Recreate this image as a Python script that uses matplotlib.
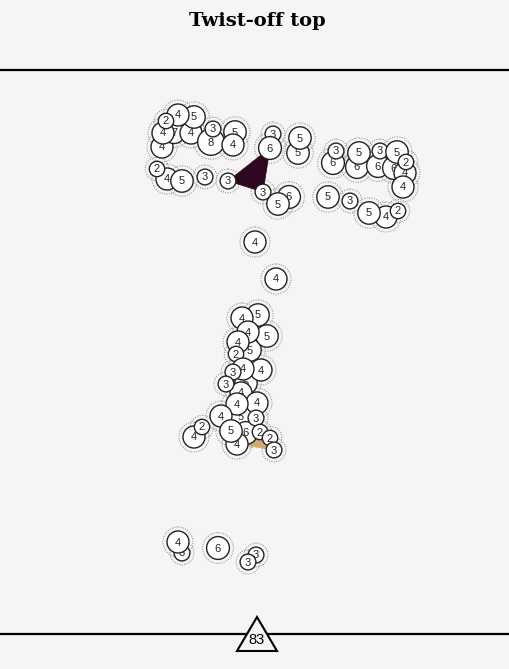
import matplotlib
matplotlib.use("Agg")
import matplotlib.pyplot as plt
from matplotlib.patches import Circle, Polygon

# Circle data (pixel-like coords, y down), drawn in this order
circ_x = [162, 174, 163, 191, 194, 178, 166, 211, 213, 235, 233,
          167, 157, 182, 205, 228,
          273, 270, 298, 300, 289, 278, 263,
          333, 336, 357, 359, 378, 380, 394, 397, 405, 403, 406,
          328, 350, 386, 369, 398,
          255, 276,
          250, 246, 241, 241, 246,
          258, 242, 267, 248, 238, 236,
          261, 243, 233, 226,
          257, 237, 221, 256,
          194, 202, 237, 231, 260, 270, 274,
          182, 178, 218, 256, 248]
circ_y = [147, 132, 133, 133, 117, 115, 121, 142, 129, 132, 145,
          179, 169, 181, 177, 181,
          134, 148, 153, 138, 197, 204, 192,
          163, 151, 167, 153, 166, 151, 168, 152, 173, 187, 162,
          197, 201, 217, 213, 211,
          242, 279,
          350, 383, 393, 417, 433,
          315, 318, 336, 332, 342, 354,
          370, 369, 372, 384,
          403, 404, 416, 418,
          437, 427, 444, 431, 432, 438, 450,
          553, 542, 548, 555, 562]
circ_n = [4, 7, 4, 4, 5, 4, 2, 8, 3, 5, 4,
          4, 2, 5, 3, 3,
          3, 6, 5, 5, 6, 5, 3,
          6, 3, 6, 5, 6, 3, 6, 5, 4, 4, 2,
          5, 3, 4, 5, 2,
          4, 4,
          5, 5, 4, 5, 6,
          5, 4, 5, 4, 4, 2,
          4, 4, 3, 3,
          4, 4, 4, 3,
          4, 2, 4, 5, 2, 2, 3,
          3, 4, 6, 3, 3]

# linked groups
dark_x = [228, 270, 263]
dark_y = [181, 148, 192]
tan_x = [237, 260, 274]
tan_y = [444, 432, 450]

title = "Twist-off top"
page_no = "83"

W, H = 510, 669
bg = "#f6f4f4"
size_by_n = {2: 7.7, 3: 7.9, 4: 11.0, 5: 11.2, 6: 11.4, 7: 11.5, 8: 13.3}

fig = plt.figure(figsize=(W / 100, H / 100), dpi=100, facecolor=bg)
ax = fig.add_axes([0, 0, 1, 1])
ax.set_facecolor(bg)
ax.set_xlim(0, W)
ax.set_ylim(H, 0)
ax.axis("off")

# frame lines
ax.plot([0, W], [70, 70], color="black", lw=1.6, solid_capstyle="butt")
ax.plot([0, W], [634, 634], color="black", lw=1.6, solid_capstyle="butt")

ax.text(W / 2 + 2, 21, title, ha="center", va="center", fontsize=14,
        fontweight="bold", family="DejaVu Serif")

# page triangle marker
px, py = 257, 634
tri = Polygon([[px, py - 17], [px - 20, py + 17], [px + 20, py + 17]], closed=True,
              facecolor=bg, edgecolor="black", lw=1.5, zorder=5)
ax.add_patch(tri)
ax.text(px, py + 6, page_no, ha="center", va="center", fontsize=10.5,
        family="Liberation Sans", zorder=6)

radii = [size_by_n[n] for n in circ_n]

# dotted halos under everything
for x, y, r in zip(circ_x, circ_y, radii):
    ax.add_patch(Circle((x, y), r + 4, facecolor="none", edgecolor="#9c9c9c",
                        lw=0.8, linestyle=(0, (1, 1.2)), zorder=1))

ax.add_patch(Polygon(list(zip(dark_x, dark_y)), closed=True, facecolor="#2d0820",
                     edgecolor="#2d0820", lw=0.5, zorder=2))
ax.add_patch(Polygon(list(zip(tan_x, tan_y)), closed=True, facecolor="#cfa873",
                     edgecolor="#cfa873", lw=0.5, zorder=2))

z = 3
for x, y, r, n in zip(circ_x, circ_y, radii, circ_n):
    ax.add_patch(Circle((x, y), r, facecolor="white", edgecolor="#222222",
                        lw=1.0, zorder=z))
    ax.text(x, y + 0.5, str(n), ha="center", va="center", fontsize=8,
            family="Liberation Sans", color="#222222", zorder=z + 1)
    z += 2

fig.savefig("out.png", dpi=100, facecolor=bg)
